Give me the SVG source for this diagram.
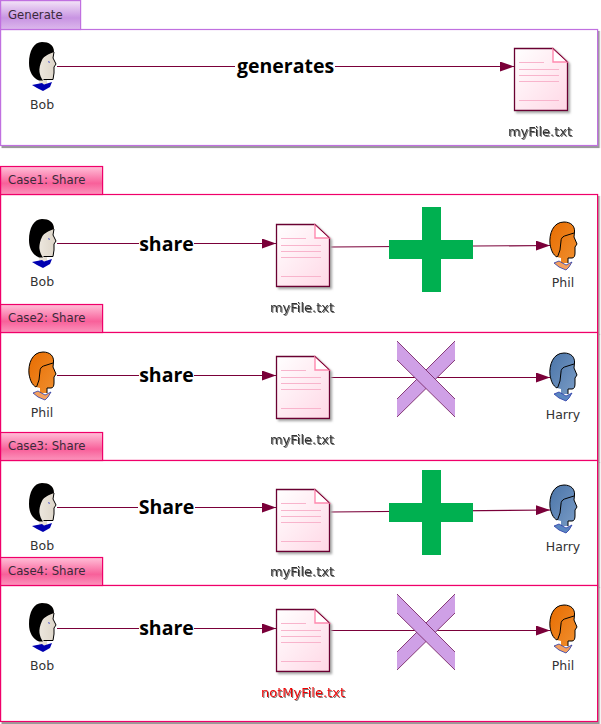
<svg xmlns="http://www.w3.org/2000/svg" xmlns:xlink="http://www.w3.org/1999/xlink" width="601" height="724" viewBox="0 0 601 724">
<style>
text{font-family:"DejaVu Sans","Noto Sans",sans-serif;font-size:12.5px;fill:#333}
.c{text-anchor:middle}
.tab{font-size:11.7px;fill:#3a2a3a}
.big{font-family:"Open Sans","Noto Sans",sans-serif;font-size:19.5px;font-weight:700;fill:#000;text-anchor:middle}
.file{filter:url(#ts);text-anchor:middle;font-size:13px}
.line{stroke:#7a0039;stroke-width:1.2;fill:none;marker-end:url(#arrow)}
.lab{fill:#fff}
.pframe{fill:#fff;stroke:#c070e0;stroke-width:1.2;filter:url(#sh)}
.cframe{fill:#fff;stroke:#f0006a;stroke-width:1.2;filter:url(#sh)}
.ptab{fill:url(#gp);stroke:#c070e0;stroke-width:1.2}
.ctab{fill:url(#gc);stroke:#f0006a;stroke-width:1.2}
.plus{fill:#00b050}
.xb{fill:#cfa0e6}
.xe{stroke:#7a2a6a;stroke-width:.9;fill:none}
.outl{stroke:#000;stroke-width:1;fill:none}
</style>
<defs>
<marker id="arrow" viewBox="0 0 14 10" refX="14" refY="5" markerWidth="14" markerHeight="10" markerUnits="userSpaceOnUse" orient="auto"><path d="M0,0L14,5L0,10z" fill="#7a0039"/></marker>
<filter id="sh" x="-2%" y="-5%" width="104%" height="110%"><feDropShadow dx="1.5" dy="2" stdDeviation=".4" flood-color="#999"/></filter>
<filter id="dsh" x="-10%" y="-10%" width="125%" height="120%"><feDropShadow dx="2" dy="2" stdDeviation="1" flood-color="#aaa"/></filter>
<filter id="ts" x="-10%" y="-30%" width="125%" height="170%"><feDropShadow dx="1" dy="1" stdDeviation=".7" flood-color="#777"/></filter>
<linearGradient id="gp" x1="0" y1="0" x2="0" y2="1"><stop offset="0" stop-color="#f3e4f8"/><stop offset=".6" stop-color="#c894e2"/><stop offset="1" stop-color="#dcb8ec"/></linearGradient>
<linearGradient id="gc" x1="0" y1="0" x2="0" y2="1"><stop offset="0" stop-color="#ffc0d8"/><stop offset=".6" stop-color="#f8609a"/><stop offset="1" stop-color="#fb94bc"/></linearGradient>
<linearGradient id="gd" x1="0" y1="0" x2="1" y2="1"><stop offset="0" stop-color="#fff"/><stop offset="1" stop-color="#ffd8e6"/></linearGradient>
<linearGradient id="gf" x1="0" y1="0" x2="1" y2="0"><stop offset="0" stop-color="#f5f1ea"/><stop offset="1" stop-color="#ddd5c8"/></linearGradient>
<linearGradient id="go" x1="0" y1="0" x2="1" y2="1"><stop offset="0" stop-color="#e86c00"/><stop offset="1" stop-color="#f09030"/></linearGradient>
<linearGradient id="gb" x1="0" y1="0" x2="1" y2="1"><stop offset="0" stop-color="#4a74a8"/><stop offset="1" stop-color="#7a9cc6"/></linearGradient>
<symbol id="doc" width="60" height="70" overflow="visible">
<g filter="url(#dsh)"><path d="M.5,.5H39L53.5,14V62.5H.5z" fill="url(#gd)" stroke="#6a0030" stroke-width="1.3"/></g>
<path d="M39,.5V14H53.5z" fill="#fff" stroke="#ff8ab0" stroke-width="1.4"/>
<path d="M39,.5L53.5,14" stroke="#6a0030" stroke-width="1"/>
<path d="M5,14.500H30M5,21.500H45M5,27.500H45M5,33.500H45M5,52.500H45" stroke="#f8b4cc" stroke-width="1"/>
</symbol>
<symbol id="bob" width="30" height="52" overflow="visible">
<path d="M13,0C20,0 25,3 25,10L24,16L27,22L25,25L25,31L24,37.500H18V42H10V38C4,36 0,30 0,21C0,9 5,0 13,0z" fill="url(#gf)"/>
<path d="M13,0C20,0 25,3 25,10C20,12 15,14 13,18C11,22 10,27 10.500,30C11,33 12,36 14,38.500H10C4,36 0,30 0,21C0,9 5,0 13,0z" fill="#000"/>
<path d="M25,10L24,16L27,22L25,25L25,31L24,37.500H14.500" class="outl"/>
<path d="M19,19l2,1l-1,1z" fill="#1a2acc"/>
<path d="M3,43L13,41L15,42.500L23,40L21,45L14,49L8,46z" fill="#0000b0"/>
</symbol>
<symbol id="phil" width="30" height="52" overflow="visible">
<path d="M14,0C21,0 25,4 24.500,10L24,15L27,22L25,25L25,31C25,34 24,36 22,36H18V41H11V36L7,35C3,33 1,28 0,22C-1,12 3,0 14,0z" fill="url(#go)"/>
<path d="M18,36V41M22,36H18M14,0C21,0 25,4 24.500,10L24,15L27,22L25,25L25,31C25,34 24,36 22,36M7,35C3,33 1,28 0,22C-1,12 3,0 14,0" class="outl"/>
<path d="M24,11L14.500,14C12,15 11,17 11,19L10,28L7.500,35" class="outl"/>
<path d="M4,41L9,39L16,43L22,40L19,45L16,48L9,45z" fill="#f4a060" stroke="#2a3aa8" stroke-width=".8"/>
</symbol>
<symbol id="harry" width="30" height="52" overflow="visible">
<path d="M14,0C21,0 25,4 24.500,10L24,15L27,22L25,25L25,31C25,34 24,36 22,36H18V41H11V36L7,35C3,33 1,28 0,22C-1,12 3,0 14,0z" fill="url(#gb)"/>
<path d="M18,36V41M22,36H18M14,0C21,0 25,4 24.500,10L24,15L27,22L25,25L25,31C25,34 24,36 22,36M7,35C3,33 1,28 0,22C-1,12 3,0 14,0" class="outl"/>
<path d="M24,11L14.500,14C12,15 11,17 11,19L10,28L7.500,35" class="outl"/>
<path d="M4,41L9,39L16,43L22,40L19,45L16,48L9,45z" fill="#5a86c0" stroke="#2a3aa8" stroke-width=".8"/>
</symbol>
<g id="plusShape"><path class="plus" d="M33,0H52V33H84V52H52V85H33V52H0V33H33z"/></g>
<g id="xShape">
<path class="xb" d="M58,0V19L0,76V58z"/><path class="xe" d="M58,19L0,76M0,58L58,0"/>
<path class="xb" d="M0,0L58,58V76L0,19z"/><path class="xe" d="M0,0L58,58M58,76L0,19"/>
</g>
</defs>
<rect width="601" height="724" fill="#fff"/>
<g id="frames">
<g id="f-generate"><rect class="pframe" x=".6" y="29.500" width="597" height="116"/><rect class="ptab" x=".6" y=".6" width="80" height="28.900"/><text class="tab" x="8" y="19">Generate</text></g>
<g id="f-case1"><rect class="cframe" x=".6" y="194.500" width="597" height="138"/><rect class="ctab" x=".6" y="166.500" width="102" height="28"/><text class="tab" x="8" y="184">Case1: Share</text></g>
<g id="f-case2"><rect class="cframe" x=".6" y="332.500" width="597" height="128"/><rect class="ctab" x=".6" y="304.500" width="102" height="28"/><text class="tab" x="8" y="322">Case2: Share</text></g>
<g id="f-case3"><rect class="cframe" x=".6" y="460.500" width="597" height="125"/><rect class="ctab" x=".6" y="432.500" width="102" height="28"/><text class="tab" x="8" y="450">Case3: Share</text></g>
<g id="f-case4"><rect class="cframe" x=".6" y="585.500" width="597" height="136"/><rect class="ctab" x=".6" y="557.500" width="102" height="28"/><text class="tab" x="8" y="575">Case4: Share</text></g>
</g>
<g id="connectors">
<path class="line" d="M57,66.500H514"/>
<rect class="lab" x="235" y="54" width="100" height="25"/><text class="big" x="285.500" y="73">generates</text>
<path class="line" d="M57,243.500H276"/>
<rect class="lab" x="139" y="232" width="55" height="24"/><text class="big" x="166.500" y="251">share</text>
<path class="line" d="M330,247L550,245.500"/>
<path class="line" d="M57,375.500H276"/>
<rect class="lab" x="139" y="364" width="55" height="24"/><text class="big" x="166.500" y="382">share</text>
<path class="line" d="M330,377.500H550"/>
<path class="line" d="M57,507.500H276"/>
<rect class="lab" x="138" y="495" width="57" height="24"/><text class="big" x="166.500" y="514">Share</text>
<path class="line" d="M330,512L550,510"/>
<path class="line" d="M57,628.500H276"/>
<rect class="lab" x="139" y="617" width="55" height="24"/><text class="big" x="166.500" y="635">share</text>
<path class="line" d="M330,630.500H550"/>
</g>
<g id="marks">
<use href="#plusShape" x="389" y="207"/>
<use href="#xShape" x="397" y="341"/>
<use href="#plusShape" x="389" y="470"/>
<use href="#xShape" x="397" y="594"/>
</g>
<g id="n1-bob"><use href="#bob" x="29" y="42"/><text class="c" x="42" y="109">Bob</text></g>
<g id="n1-file"><use href="#doc" x="514" y="48"/><text class="file" x="540" y="136">myFile.txt</text></g>
<g id="n2-bob"><use href="#bob" x="29" y="219"/><text class="c" x="42" y="286">Bob</text></g>
<g id="n2-file"><use href="#doc" x="276" y="224"/><text class="file" x="302" y="312">myFile.txt</text></g>
<g id="n2-phil"><use href="#phil" x="550" y="222"/><text class="c" x="563" y="287">Phil</text></g>
<g id="n3-phil"><use href="#phil" x="29" y="352"/><text class="c" x="42" y="417">Phil</text></g>
<g id="n3-file"><use href="#doc" x="276" y="356"/><text class="file" x="302" y="444">myFile.txt</text></g>
<g id="n3-harry"><use href="#harry" x="550" y="353"/><text class="c" x="563" y="419">Harry</text></g>
<g id="n4-bob"><use href="#bob" x="29" y="483"/><text class="c" x="42" y="550">Bob</text></g>
<g id="n4-file"><use href="#doc" x="276" y="489"/><text class="file" x="302" y="576">myFile.txt</text></g>
<g id="n4-harry"><use href="#harry" x="550" y="485"/><text class="c" x="563" y="551">Harry</text></g>
<g id="n5-bob"><use href="#bob" x="29" y="603"/><text class="c" x="42" y="670">Bob</text></g>
<g id="n5-file"><use href="#doc" x="276" y="609"/><text class="file" x="303" y="697" style="fill:#f00000">notMyFile.txt</text></g>
<g id="n5-phil"><use href="#phil" x="550" y="605"/><text class="c" x="563" y="670">Phil</text></g>
</svg>
